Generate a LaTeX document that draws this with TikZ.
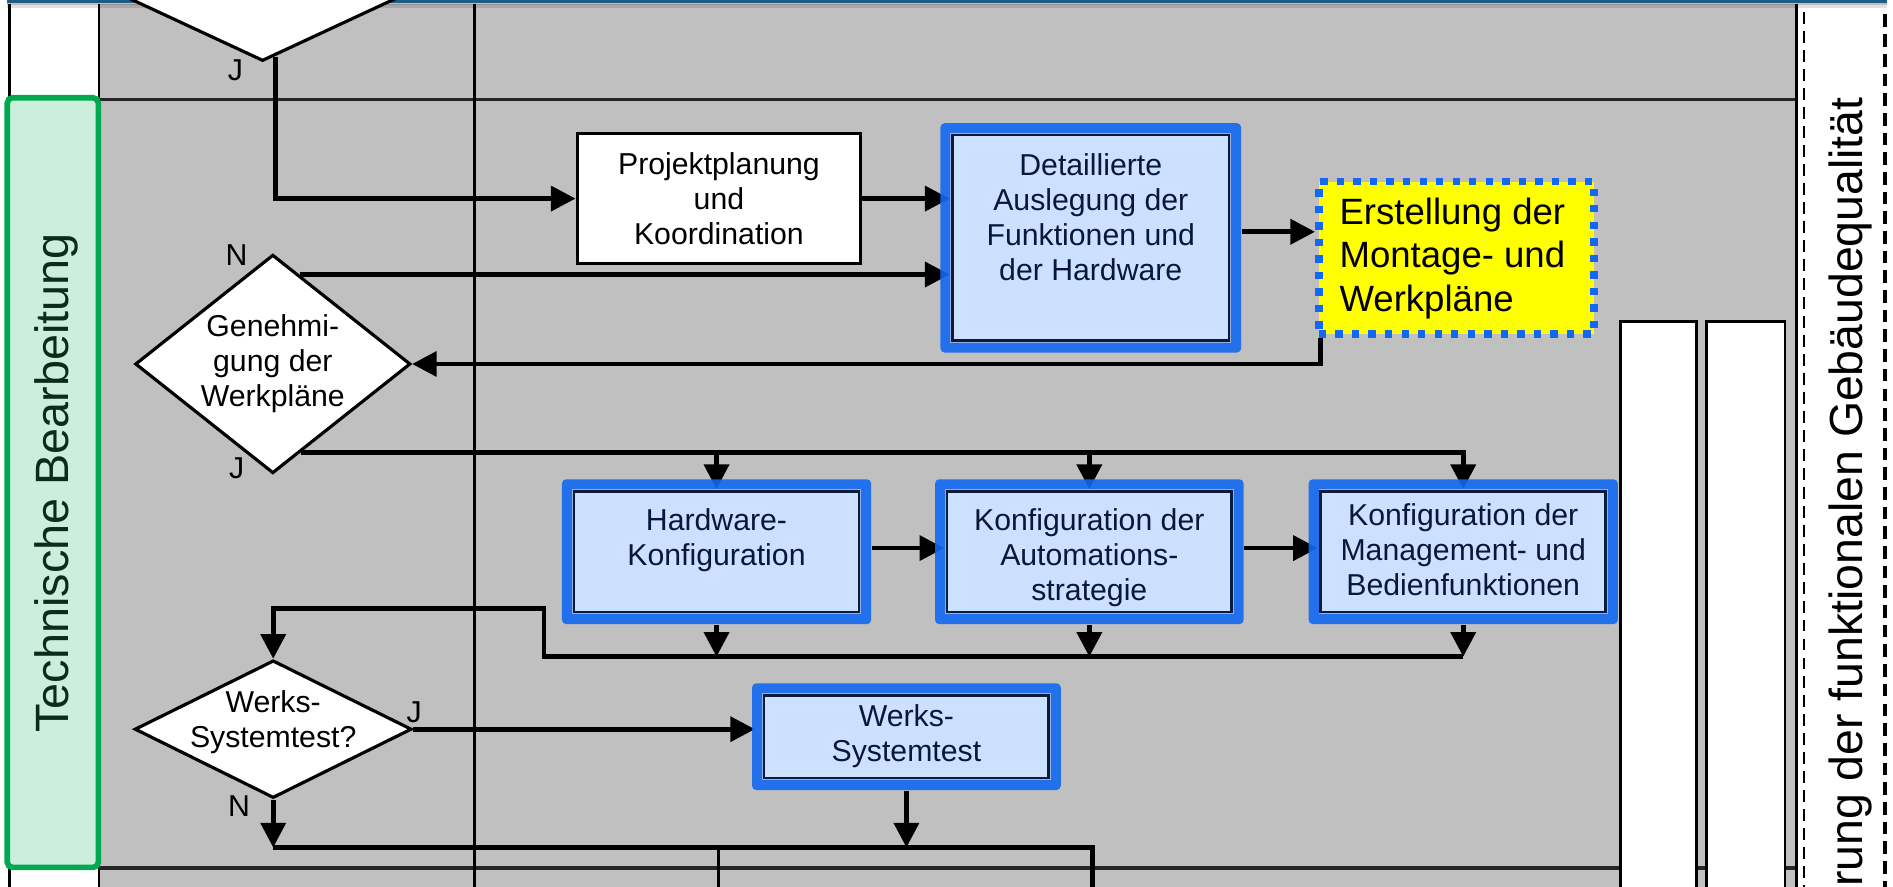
\documentclass[tikz,border=0pt]{standalone}
\usepackage{fontspec}
\setmainfont{Liberation Sans}
\usetikzlibrary{arrows.meta,shapes.geometric,calc}

\pgfdeclarelayer{back}
\pgfdeclarelayer{front}
\pgfsetlayers{back,main,front}

\definecolor{lanegray}{RGB}{192,192,192}
\definecolor{frameblue}{RGB}{18,104,242}
\definecolor{navy}{RGB}{12,26,60}
\definecolor{navytext}{RGB}{10,24,56}
\definecolor{paleblue}{RGB}{204,224,255}
\definecolor{fringe}{RGB}{150,175,220}
\definecolor{lanegreen}{RGB}{0,168,80}
\definecolor{palegreen}{RGB}{204,238,220}
\definecolor{darkgreen}{RGB}{12,44,24}
\definecolor{topteal}{RGB}{30,92,135}
\definecolor{notebg}{RGB}{255,255,0}

% one drawing unit in points
\def\dpx{0.3435pt}

\begin{document}
\begin{tikzpicture}[x=0.012073cm, y=-0.012073cm,
  txt/.style={font=\fontsize{8.6}{10}\selectfont, align=center, inner sep=0pt},
  yn/.style={font=\fontsize{8.6}{10}\selectfont, inner sep=0pt},
  plainbox/.style 2 args={draw=black, line width=0.85pt, fill=white,
    minimum width=#1*\dpx, minimum height=#2*\dpx, inner sep=0pt,
    align=center, font=\fontsize{8.6}{10}\selectfont},
  bluebox/.style 2 args={fill=frameblue, fill opacity=0.9, rounded corners=1.2pt,
    minimum width=#1*\dpx, minimum height=#2*\dpx, inner sep=0pt,
    path picture={
      \draw[sharp corners, draw=navy, line width=0.75pt, fill=paleblue,
            fill opacity=1, draw opacity=1,
            preaction={draw=fringe, line width=1.2pt, draw opacity=1}]
        ($(path picture bounding box.south west)+(10,-10)$) rectangle
        ($(path picture bounding box.north east)+(-10,10)$);}},
  notebox/.style 2 args={fill=notebg, draw=frameblue, line width=2.2pt,
    dash pattern=on 2.1pt off 2.6pt,
    minimum width=#1*\dpx, minimum height=#2*\dpx, inner sep=0pt},
  dia/.style 2 args={diamond, draw=black, line width=0.9pt, fill=white,
    inner sep=0pt, minimum width=#1*\dpx, minimum height=#2*\dpx},
  bluetxt/.style={txt, text=navytext},
  flowline/.style={line width=1.35pt},
  flowarrow/.style={line width=1.35pt, -{Triangle[length=7pt,width=7pt]}}]

\useasboundingbox (0,0) rectangle (1568,734);

% ---------------- swimlane background ----------------
\begin{pgfonlayer}{back}
  \fill[white] (0,0) rectangle (1568,734);
  \fill[lanegray] (82,3) rectangle (1488,740);
  % header column rules
  \draw[line width=0.75pt] (8,3) -- (8,740) (82,3) -- (82,740);
  % lane separators
  \draw[line width=1.05pt, black!85] (82,82.5) -- (1488,82.5);
  \draw[line width=1.05pt, black!85] (82,719) -- (1488,719);
  % column rule
  \draw[line width=0.7pt] (393,3) -- (393,740);
  % right edge of the lanes
  \draw[line width=0.8pt] (1488,3) -- (1488,740);
  % dashed frame of the side band
  \draw[line width=0.5pt, dash pattern=on 3.4pt off 2pt] (1494,10) -- (1494,740);
  \draw[line width=1.1pt, dash pattern=on 3.6pt off 2pt] (1561.5,12) -- (1561.5,740);
  % white bars
  \draw[line width=0.8pt, fill=white] (1342,266.4) rectangle (1405.3,760);
  \draw[line width=0.8pt, fill=white] (1413.6,266.4) rectangle (1478.5,760);
  % top rule with soft shadow
  \draw[black, opacity=0.25, line width=0.6pt] (6,3.6) -- (1563,3.6);
  \draw[black, opacity=0.12, line width=0.7pt] (6,5.4) -- (1563,5.4);
  \draw[topteal, line width=0.8pt] (6,1.2) -- (1563,1.2);
  % lane header
  \draw[lanegreen, line width=1.6pt, fill=palegreen, rounded corners=1.5pt]
    (6,81) rectangle (81.5,718.5);
  \node[rotate=90, anchor=base, font=\fontsize{13.3}{15}\selectfont,
        text=darkgreen, inner sep=0pt] (lanetitle) at (57,400) {Technische Bearbeitung};
  \node[rotate=90, anchor=base east, font=\fontsize{13.2}{15}\selectfont,
        inner sep=0pt] (sidetitle) at (1543,80) {rung der funktionalen Gebäudequalität};
\end{pgfonlayer}

% ---------------- process steps ----------------
\begin{pgfonlayer}{front}
  \node[dia={480}{223.6}] (topd) at (217.5,-61.3) {};

  \node[plainbox={235}{108}] (proj) at (595.5,164.5) {Projektplanung\\und\\Koordination};

  \node[bluebox={249}{190}] (det) at (903.5,197) {};
  \node[bluetxt] (det-t) at (903.5,180) {Detaillierte\\Auslegung der\\Funktionen und\\der Hardware};

  \node[notebox={228}{126}] (ers) at (1206.5,213.4) {};
  \node[anchor=west, align=left, inner sep=0pt, font=\fontsize{10.4}{12.3}\selectfont]
    (ers-t) at (1109,214) {Erstellung der\\Montage- und\\Werkpläne};

  \node[dia={228}{181}] (gen) at (226,301.5) {};
  \node[txt] (gen-t) at (226,301) {Genehmi-\\gung der\\Werkpläne};

  \node[bluebox={256}{120}] (hw) at (593.5,457) {};
  \node[bluetxt] (hw-t) at (593.5,447.5) {Hardware-\\Konfiguration};
  \node[bluebox={255.5}{120}] (aut) at (902.3,457) {};
  \node[bluetxt] (aut-t) at (902.3,462) {Konfiguration der\\Automations-\\strategie};
  \node[bluebox={256}{120}] (mgt) at (1212,457) {};
  \node[bluetxt] (mgt-t) at (1212,455.5) {Konfiguration der\\Management- und\\Bedienfunktionen};

  \node[dia={229.4}{114}] (ws) at (226.3,604) {};
  \node[txt] (ws-t) at (226.3,598.5) {Werks-\\Systemtest?};

  \node[bluebox={255.6}{88.4}] (wst) at (750.8,610.2) {};
  \node[bluetxt] (wst-t) at (750.8,609.5) {Werks-\\Systemtest};

  % decision outcomes
  \node[yn] (topd-j) at (195,58) {J};
  \node[yn] (gen-n) at (196,211) {N};
  \node[yn] (gen-j) at (196,388) {J};
  \node[yn] (ws-j) at (343,590) {J};
  \node[yn] (ws-n) at (198,668) {N};
\end{pgfonlayer}

% ---------------- connectors ----------------
\coordinate (tJ) at ($(topd.south)!0.044!(topd.east)$);
\draw[flowarrow] (tJ) |- (proj.west);
\draw[flowarrow, shorten >=-2.8pt] (proj.east) -- (det.west |- proj.east);

\coordinate (gN) at ($(gen.north)!0.193!(gen.east)$);
\draw[flowarrow, shorten >=-2.8pt] (gN) -- (gN -| det.west);

\coordinate (dOut) at ($(det.east)+(0,-5)$);
\draw[flowarrow] (dOut) -- (dOut -| ers.west);

\coordinate (eOut) at ($(ers.south west)+(4.6,0)$);
\draw[flowarrow] (eOut) |- (gen.east);

\coordinate (gJ) at ($(gen.south)!0.204!(gen.east)$);
\draw[flowarrow, shorten >=-3pt] (gJ) -| (mgt.north);
\draw[flowarrow, shorten >=-3pt] (gJ -| hw.north) -- (hw.north);
\draw[flowarrow, shorten >=-3pt] (gJ -| aut.north) -- (aut.north);

\coordinate (hwA) at ($(hw.east)+(0,-3)$);
\draw[flowarrow, shorten >=-2.8pt] (hwA) -- (hwA -| aut.west);
\coordinate (autA) at ($(aut.east)+(0,-3)$);
\draw[flowarrow, shorten >=-2.8pt] (autA) -- (autA -| mgt.west);

\coordinate (colL) at (450.5,544);
\coordinate (colU) at (450.5,504);
\draw[flowarrow] (hw.south) -- (hw.south |- colL);
\draw[flowarrow] (aut.south) -- (aut.south |- colL);
\draw[flowarrow] (mgt.south) -- (mgt.south |- colL);
\draw[flowarrow] (mgt.south |- colL) -- (colL) -- (colU) -| (ws.north);

\draw[flowarrow, shorten >=-1pt] (ws.east) -- (ws.east -| wst.west);

\coordinate (nL) at (228.5,702);
\coordinate (nR) at (905,702);
\coordinate (nM) at (595,702);
\coordinate (nRend) at (905,740);
\coordinate (nMend) at (595,740);
\draw[flowarrow] (ws.south) -- (ws.south |- nL);
\draw[flowarrow] (wst.south) -- (wst.south |- nL);
\draw[flowline] (ws.south |- nL) -- (nR) -- (nRend);
\draw[line width=0.9pt] (nM) -- (nMend);
\end{tikzpicture}
\end{document}
